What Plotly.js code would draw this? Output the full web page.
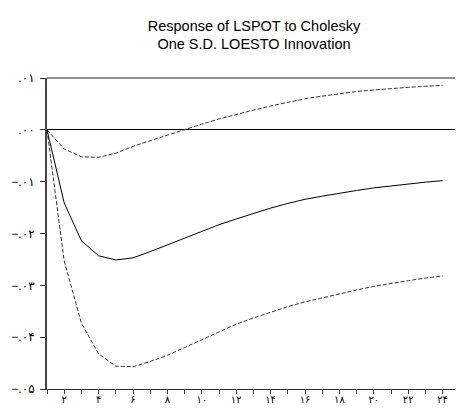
<!DOCTYPE html>
<html>
<head>
<meta charset="utf-8">
<script src="https://cdn.plot.ly/plotly-3.0.1.min.js"></script>
<style>html,body{margin:0;padding:0;background:#fff;}#chart{width:456px;height:408px;}</style>
</head>
<body>
<div id="chart"></div>
<script>
const periods = [1,2,3,4,5,6,7,8,9,10,11,12,13,14,15,16,17,18,19,20,21,22,23,24];
const response = [0,-0.0141,-0.0214,-0.0243,-0.0251,-0.0247,-0.0235,-0.0222,-0.0208,-0.0195,-0.0183,-0.0172,-0.0161,-0.0151,-0.0142,-0.0134,-0.0128,-0.0122,-0.0117,-0.0112,-0.0108,-0.0104,-0.0101,-0.0098];
const upperBand = [0,-0.0037,-0.0052,-0.0053,-0.0045,-0.0032,-0.0021,-0.0010,0.0001,0.0011,0.0021,0.0030,0.0038,0.0046,0.0053,0.0060,0.0065,0.0070,0.0074,0.0077,0.0080,0.0082,0.0084,0.0086];
const lowerBand = [0,-0.0253,-0.0373,-0.0432,-0.0456,-0.0457,-0.0447,-0.0435,-0.0420,-0.0405,-0.0390,-0.0375,-0.0363,-0.0352,-0.0341,-0.0332,-0.0324,-0.0316,-0.0309,-0.0302,-0.0296,-0.0291,-0.0286,-0.0282];
const yTickVals = [0.01,0,-0.01,-0.02,-0.03,-0.04,-0.05];
const yTickText = [".۰۱",".۰۰","−.۰۱","−.۰۲","−.۰۳","−.۰۴","−.۰۵"];
const xTickVals = periods;
const xTickText = ["","۲","","۴","","۶","","۸","","۱۰","","۱۲","","۱۴","","۱۶","","۱۸","","۲۰","","۲۲","","۲۴"];
const titleText = "Response of LSPOT to Cholesky<br>One S.D. LOESTO Innovation";

const fontFam = "Liberation Sans, Arial, DejaVu Sans, sans-serif";
const traces = [
  {x: periods, y: upperBand, mode: 'lines', line: {color: '#333', width: 1, dash: '4px,2px'}, hoverinfo: 'skip'},
  {x: periods, y: lowerBand, mode: 'lines', line: {color: '#333', width: 1, dash: '4px,2px'}, hoverinfo: 'skip'},
  {x: periods, y: response, mode: 'lines', line: {color: '#000', width: 1}, hoverinfo: 'skip'}
];
const layout = {
  width: 456, height: 408,
  margin: {l: 47, r: 1, t: 78, b: 19, pad: 0},
  paper_bgcolor: '#fff', plot_bgcolor: '#fff',
  showlegend: false,
  font: {family: fontFam, color: '#000', size: 11},
  title: {text: titleText, font: {family: fontFam, size: 14.5, color: '#000'}, x: 0.557, xanchor: 'center', y: 0.925, yanchor: 'top', yref: 'container'},
  xaxis: {range: [1, 24.72], tickmode: 'array', tickvals: xTickVals, ticktext: xTickText, ticks: 'outside', ticklen: 4, tickcolor: '#333', tickwidth: 1,
          ticklabelstandoff: -3,
          showline: true, linecolor: '#333', linewidth: 1, mirror: false, showgrid: false, zeroline: false, tickfont: {size: 10}},
  yaxis: {range: [-0.05, 0.01], tickmode: 'array', tickvals: yTickVals, ticktext: yTickText, ticks: 'outside', ticklen: 5, tickcolor: '#333', tickwidth: 1,
          ticklabelstandoff: 3,
          showline: true, linecolor: '#444', linewidth: 2, showgrid: false, zeroline: true, zerolinecolor: '#000', zerolinewidth: 1, tickfont: {size: 12}},
  shapes: [{type: 'line', xref: 'paper', yref: 'paper', x0: 0, x1: 1, y0: 1, y1: 1, line: {color: '#222', width: 1}}]
};
Plotly.newPlot('chart', traces, layout, {displayModeBar: false, staticPlot: true});
</script>
</body>
</html>
